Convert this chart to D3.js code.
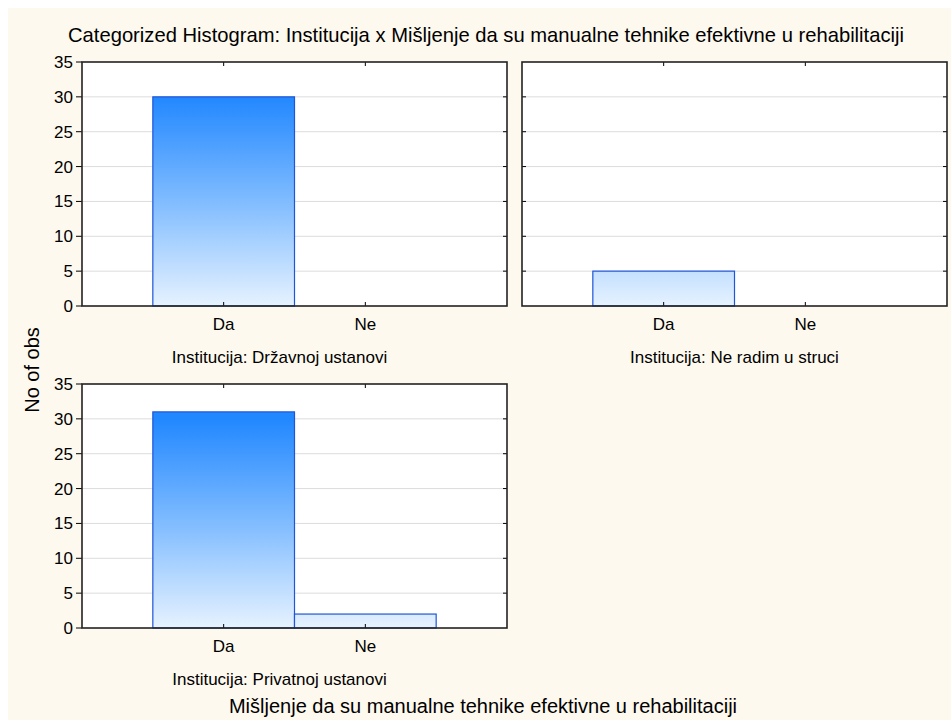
<!DOCTYPE html>
<html><head><meta charset="utf-8">
<script src="https://cdn.jsdelivr.net/npm/d3@7"></script>
<style>body{margin:0;background:#fff}svg{display:block;font-family:"Liberation Sans",Arial,sans-serif}</style>
</head><body>
<svg id="c" width="951" height="720"></svg>
<script>
const title = "Categorized Histogram: Institucija x Mišljenje da su manualne tehnike efektivne u rehabilitaciji";
const xTitle = "Mišljenje da su manualne tehnike efektivne u rehabilitaciji";
const yTitle = "No of obs";
const categories = ["Da", "Ne"];
const panelNames = ["Institucija: Državnoj ustanovi", "Institucija: Ne radim u struci", "Institucija: Privatnoj ustanovi"];
const drzavnojValues = [30, 0];
const neRadimValues = [5, 0];
const privatnojValues = [31, 2];
const yTicks = [0, 5, 10, 15, 20, 25, 30, 35];

const panelValues = [drzavnojValues, neRadimValues, privatnojValues];
const svg = d3.select("#c");
svg.append("rect").attr("x", 8).attr("y", 8).attr("width", 943).attr("height", 712).attr("fill", "#fef9ee");

const defs = svg.append("defs");
svg.append("text").attr("x", 486).attr("y", 42).attr("text-anchor", "middle")
  .attr("font-size", 20.2).attr("fill", "#000").text(title);
svg.append("text").attr("x", 483).attr("y", 713).attr("text-anchor", "middle")
  .attr("font-size", 20).attr("fill", "#000").text(xTitle);
svg.append("text").attr("transform", "translate(39,370) rotate(-90)").attr("text-anchor", "middle")
  .attr("font-size", 20).attr("fill", "#000").text(yTitle);

const layout = [
  {x0: 82, x1: 507, y0: 62, y1: 306, labels: true},
  {x0: 522, x1: 947, y0: 62, y1: 306, labels: false},
  {x0: 82, x1: 507, y0: 384, y1: 628, labels: true}
];

layout.forEach((L, i) => {
  const w = L.x1 - L.x0;
  const x = d3.scaleBand().domain(categories).range([L.x0 + w / 6, L.x1 - w / 6]).padding(0);
  const y = d3.scaleLinear().domain([0, 35]).range([L.y1, L.y0]);
  const g = svg.append("g");
  g.append("rect").attr("x", L.x0).attr("y", L.y0).attr("width", w).attr("height", L.y1 - L.y0).attr("fill", "#fff");
  g.selectAll(".grid").data(yTicks.filter(t => t > 0 && t < 35)).join("line")
    .attr("x1", L.x0).attr("x2", L.x1).attr("y1", d => y(d)).attr("y2", d => y(d))
    .attr("stroke", "#dcdcdc").attr("stroke-width", 1);
  const gid = "grad" + i;
  const grad = defs.append("linearGradient").attr("id", gid).attr("gradientUnits", "userSpaceOnUse")
    .attr("x1", 0).attr("x2", 0).attr("y1", y(0)).attr("y2", y(30));
  grad.append("stop").attr("offset", 0).attr("stop-color", "#e6f2ff");
  grad.append("stop").attr("offset", 0.5).attr("stop-color", "#80bcff");
  grad.append("stop").attr("offset", 1).attr("stop-color", "#2288ff");
  const data = categories.map((c, k) => ({c, v: panelValues[i][k]})).filter(d => d.v > 0);
  g.selectAll(".bar").data(data).join("rect")
    .attr("x", d => x(d.c)).attr("width", x.bandwidth())
    .attr("y", d => y(d.v)).attr("height", d => y(0) - y(d.v))
    .attr("fill", `url(#${gid})`).attr("stroke", "#1f55d8").attr("stroke-width", 1.2);
  const yt = yTicks.filter(t => t > 0 && t < 35);
  g.selectAll(".rt").data(yt).join("line").attr("x1", L.x1 - 4).attr("x2", L.x1)
    .attr("y1", d => y(d)).attr("y2", d => y(d)).attr("stroke", "#000");
  if (L.labels) {
    g.selectAll(".lt").data(yTicks).join("line").attr("x1", L.x0 - 6).attr("x2", L.x0)
      .attr("y1", d => y(d)).attr("y2", d => y(d)).attr("stroke", "#000");
    g.selectAll(".yl").data(yTicks).join("text").attr("x", L.x0 - 9).attr("y", d => y(d) + 6)
      .attr("text-anchor", "end").attr("font-size", 17).attr("fill", "#000").text(d => d);
  } else {
    g.selectAll(".lt").data(yt).join("line").attr("x1", L.x0).attr("x2", L.x0 + 4)
      .attr("y1", d => y(d)).attr("y2", d => y(d)).attr("stroke", "#000");
  }
  g.selectAll(".bt").data(categories).join("line")
    .attr("x1", d => x(d) + x.bandwidth() / 2).attr("x2", d => x(d) + x.bandwidth() / 2)
    .attr("y1", L.y1 - 4).attr("y2", L.y1).attr("stroke", "#000");
  g.selectAll(".tt").data(categories).join("line")
    .attr("x1", d => x(d) + x.bandwidth() / 2).attr("x2", d => x(d) + x.bandwidth() / 2)
    .attr("y1", L.y0).attr("y2", L.y0 + 4).attr("stroke", "#000");
  g.selectAll(".xl").data(categories).join("text")
    .attr("x", d => x(d) + x.bandwidth() / 2).attr("y", L.y1 + 24)
    .attr("text-anchor", "middle").attr("font-size", 17).attr("fill", "#000").text(d => d);
  const cx = L.labels ? (L.x0 - 30 + L.x1) / 2 : (L.x0 + L.x1) / 2;
  g.append("text").attr("x", cx).attr("y", L.y1 + 57).attr("text-anchor", "middle")
    .attr("font-size", 17).attr("fill", "#000").text(panelNames[i]);
  g.append("rect").attr("x", L.x0).attr("y", L.y0).attr("width", w).attr("height", L.y1 - L.y0)
    .attr("fill", "none").attr("stroke", "#222").attr("stroke-width", 1.6);
});
</script>
</body></html>
